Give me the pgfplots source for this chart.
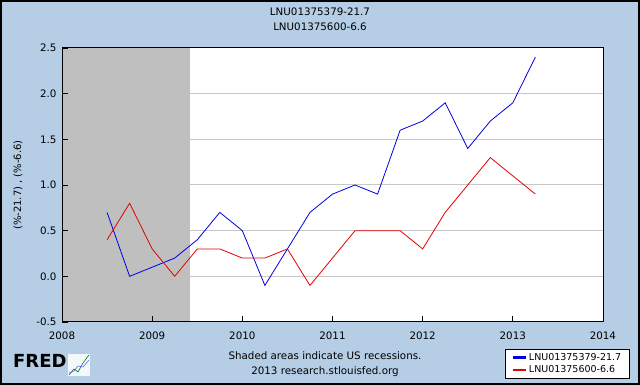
\documentclass[border=0pt]{standalone}
\usepackage{pgfplots}
\pgfplotsset{compat=1.18}
\usepackage{fontspec}
\setmainfont{DejaVu Sans}
\definecolor{fredbg}{RGB}{181,205,229}
\definecolor{recgray}{RGB}{191,191,191}
\definecolor{gridgray}{RGB}{200,200,200}
\definecolor{fblue}{RGB}{0,0,230}
\definecolor{fred}{RGB}{230,0,0}
\begin{document}
\begin{tikzpicture}[x=1pt,y=1pt]
\useasboundingbox (0,0) rectangle (640,385);
\fill[fredbg] (0,0) rectangle (640,385);
\draw[black,line width=2pt] (1,1) rectangle (639,384);
\node[font=\fontsize{10.3}{12}\selectfont] at (320,373) {LNU01375379-21.7};
\node[font=\fontsize{10.3}{12}\selectfont] at (320,358) {LNU01375600-6.6};
\node[rotate=90,font=\fontsize{10}{12}\selectfont] at (18,200) {(\%-21.7) , (\%-6.6)};
\node[font=\fontsize{10.3}{12}\selectfont] at (325,29) {Shaded areas indicate US recessions.};
\node[font=\fontsize{10.3}{12}\selectfont] at (325,13) {2013 research.stlouisfed.org};
\node[font=\fontsize{18}{18}\selectfont\bfseries,anchor=west,inner sep=0pt] at (13,24) {FRED};
\fill[white!85!fredbg] (68,9) rectangle (90,31);
\draw[green!50!black,line width=0.6pt] (69,10) -- (74,16) -- (78,13) -- (83,22) -- (89,30);
\draw[blue!60,line width=0.6pt] (69,12) -- (74,14) -- (78,19) -- (83,18) -- (89,25);
\begin{axis}[
  at={(62pt,63pt)}, anchor=south west,
  scale only axis, width=541pt, height=274pt,
  xmin=2008, xmax=2014, ymin=-0.5, ymax=2.5,
  xtick={2008,2009,...,2014},
  ytick={-0.5,0,0.5,1,1.5,2,2.5},
  xticklabel style={/pgf/number format/1000 sep={}, yshift=-6pt},
  yticklabel style={/pgf/number format/fixed,/pgf/number format/fixed zerofill,/pgf/number format/precision=1, xshift=-2pt},
  /pgf/number format/assume math mode=true,
  ticklabel style={font=\fontsize{10.3}{12}\selectfont},
  tick align=inside, major tick length=6pt,
  xtick pos=bottom, ytick pos=left,
  axis background/.style={fill=white},
  axis on top,
  axis line style={black,line width=1pt},
  every tick/.style={black,line width=0.8pt},
  legend style={at={(0.819,-0.0985)}, anchor=north west, draw=black, line width=0.8pt,
    font=\fontsize{9.5}{10.5}\selectfont, fill=white, inner xsep=6pt, inner ysep=2pt, row sep=0pt,
    /tikz/every even column/.append style={column sep=2pt}},
  legend cell align=left,
  legend image code/.code={\draw[#1] (0pt,0pt) -- (13pt,0pt);},
]
\addplot[fill=recgray, draw=none, forget plot] coordinates {(2008,-0.5) (2009.42,-0.5) (2009.42,2.5) (2008,2.5)} -- cycle;
\draw[gridgray,line width=1pt] (axis cs:2009.42,0) -- (axis cs:2014,0);
\draw[gridgray,line width=1pt] (axis cs:2009.42,0.5) -- (axis cs:2014,0.5);
\draw[gridgray,line width=1pt] (axis cs:2009.42,1) -- (axis cs:2014,1);
\draw[gridgray,line width=1pt] (axis cs:2009.42,1.5) -- (axis cs:2014,1.5);
\draw[gridgray,line width=1pt] (axis cs:2009.42,2) -- (axis cs:2014,2);
\addlegendimage{fblue,line width=2.5pt}
\addlegendentry{LNU01375379-21.7}
\addlegendimage{fred,line width=2.5pt}
\addlegendentry{LNU01375600-6.6}
\addplot[fblue, line width=0.8pt, forget plot] coordinates {
(2008.5,0.7) (2008.75,0.0) (2009.0,0.1) (2009.25,0.2) (2009.5,0.4) (2009.75,0.7)
(2010.0,0.5) (2010.25,-0.1) (2010.5,0.3) (2010.75,0.7) (2011.0,0.9) (2011.25,1.0)
(2011.5,0.9) (2011.75,1.6) (2012.0,1.7) (2012.25,1.9) (2012.5,1.4) (2012.75,1.7)
(2013.0,1.9) (2013.25,2.4)};
\addplot[fred, line width=0.8pt, forget plot] coordinates {
(2008.5,0.4) (2008.75,0.8) (2009.0,0.3) (2009.25,0.0) (2009.5,0.3) (2009.75,0.3)
(2010.0,0.2) (2010.25,0.2) (2010.5,0.3) (2010.75,-0.1) (2011.0,0.2) (2011.25,0.5)
(2011.5,0.5) (2011.75,0.5) (2012.0,0.3) (2012.25,0.7) (2012.5,1.0) (2012.75,1.3)
(2013.0,1.1) (2013.25,0.9)};
\end{axis}
\end{tikzpicture}
\end{document}
